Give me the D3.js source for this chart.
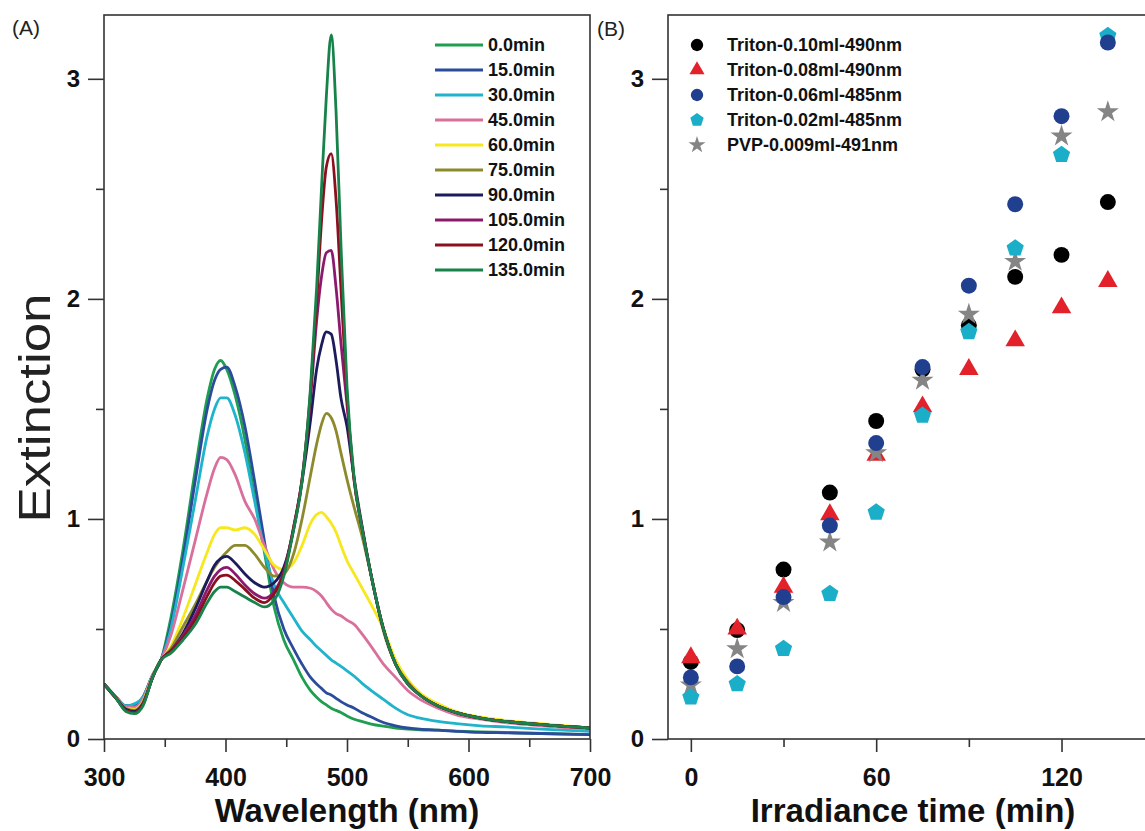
<!DOCTYPE html>
<html>
<head>
<meta charset="utf-8">
<script src="https://cdn.jsdelivr.net/npm/d3@7"></script>
<style>
  body { margin: 0; background: #fff; }
  text { font-family: "Liberation Sans", Arial, sans-serif; }
</style>
</head>
<body>
<svg id="chart" width="1145" height="831"></svg>
<script>
// ---- Panel A data: extinction spectra ----
const wavelengths = [300, 310, 318, 325, 332, 340, 347, 355, 365, 375, 385, 391, 396, 401, 408, 416, 424, 432, 440, 448,
  456, 463, 470, 475, 479, 483, 487, 491, 495, 500, 506, 512, 520, 530, 540, 550, 560, 575, 590, 610, 630, 660, 700];

const spectrumLabels = ["0.0min", "15.0min", "30.0min", "45.0min", "60.0min", "75.0min", "90.0min", "105.0min", "120.0min", "135.0min"];
const spectrumColors = ["#1f9e50", "#2b4c9b", "#1fb3cc", "#d9709c", "#f7e81e", "#8c8a2c", "#1c1c5c", "#8b1a6e", "#8b0f1e", "#17824a"];

const ext0 = [0.25, 0.19, 0.15, 0.155, 0.19, 0.29, 0.36, 0.55, 0.86, 1.22, 1.55, 1.68, 1.72, 1.68, 1.56, 1.36, 1.10, 0.85, 0.60, 0.45,
  0.36, 0.28, 0.22, 0.19, 0.17, 0.155, 0.14, 0.13, 0.12, 0.105, 0.09, 0.08, 0.068, 0.058, 0.05, 0.045, 0.042, 0.04, 0.036, 0.032, 0.03, 0.025, 0.02];
const ext15 = [0.25, 0.19, 0.15, 0.155, 0.19, 0.29, 0.36, 0.52, 0.82, 1.17, 1.50, 1.63, 1.68, 1.69, 1.60, 1.42, 1.17, 0.90, 0.65, 0.50,
  0.41, 0.34, 0.28, 0.25, 0.23, 0.21, 0.20, 0.185, 0.17, 0.155, 0.14, 0.12, 0.10, 0.075, 0.06, 0.05, 0.045, 0.04, 0.035, 0.03, 0.028, 0.025, 0.02];
const ext30 = [0.25, 0.19, 0.15, 0.16, 0.19, 0.29, 0.36, 0.50, 0.78, 1.08, 1.38, 1.50, 1.55, 1.55, 1.47, 1.30, 1.08, 0.86, 0.70, 0.62,
  0.55, 0.49, 0.45, 0.42, 0.40, 0.38, 0.36, 0.345, 0.33, 0.31, 0.285, 0.255, 0.22, 0.18, 0.14, 0.11, 0.095, 0.08, 0.07, 0.06, 0.055, 0.045, 0.035];
const ext45 = [0.25, 0.19, 0.145, 0.145, 0.18, 0.29, 0.36, 0.47, 0.68, 0.90, 1.12, 1.23, 1.28, 1.27, 1.20, 1.08, 1.00, 0.88, 0.77, 0.71,
  0.69, 0.69, 0.685, 0.67, 0.65, 0.62, 0.59, 0.57, 0.56, 0.54, 0.52, 0.48, 0.42, 0.34, 0.28, 0.22, 0.18, 0.14, 0.11, 0.09, 0.075, 0.06, 0.045];
const ext60 = [0.25, 0.185, 0.14, 0.135, 0.17, 0.285, 0.36, 0.42, 0.55, 0.70, 0.85, 0.93, 0.96, 0.96, 0.95, 0.96, 0.93, 0.86, 0.79, 0.77,
  0.80, 0.88, 0.98, 1.02, 1.03, 1.01, 0.98, 0.94, 0.88, 0.81, 0.75, 0.69, 0.61, 0.50, 0.36, 0.27, 0.21, 0.16, 0.125, 0.10, 0.085, 0.07, 0.05];
const ext75 = [0.25, 0.185, 0.14, 0.13, 0.165, 0.28, 0.36, 0.41, 0.51, 0.61, 0.72, 0.78, 0.82, 0.85, 0.88, 0.88, 0.84, 0.78, 0.74, 0.75,
  0.84, 1.00, 1.20, 1.34, 1.43, 1.48, 1.46, 1.40, 1.30, 1.18, 1.05, 0.93, 0.74, 0.49, 0.34, 0.26, 0.20, 0.15, 0.12, 0.095, 0.08, 0.065, 0.05];
const ext90 = [0.25, 0.185, 0.135, 0.125, 0.16, 0.28, 0.36, 0.40, 0.48, 0.59, 0.72, 0.79, 0.82, 0.83, 0.80, 0.75, 0.71, 0.69, 0.71, 0.78,
  0.95, 1.17, 1.45, 1.68, 1.79, 1.85, 1.84, 1.72, 1.55, 1.42, 1.18, 0.98, 0.74, 0.50, 0.34, 0.25, 0.20, 0.15, 0.12, 0.095, 0.08, 0.065, 0.05];
const ext105 = [0.25, 0.185, 0.13, 0.12, 0.155, 0.28, 0.36, 0.40, 0.47, 0.56, 0.68, 0.74, 0.77, 0.78, 0.75, 0.70, 0.66, 0.64, 0.67, 0.76,
  0.96, 1.18, 1.55, 1.90, 2.10, 2.21, 2.22, 2.05, 1.80, 1.52, 1.17, 0.97, 0.74, 0.50, 0.34, 0.25, 0.20, 0.15, 0.12, 0.095, 0.08, 0.065, 0.05];
const ext120 = [0.25, 0.185, 0.13, 0.12, 0.155, 0.28, 0.36, 0.40, 0.46, 0.54, 0.65, 0.71, 0.74, 0.745, 0.72, 0.68, 0.64, 0.62, 0.66, 0.75,
  0.96, 1.18, 1.58, 1.98, 2.35, 2.60, 2.66, 2.45, 2.05, 1.56, 1.17, 0.97, 0.74, 0.50, 0.34, 0.25, 0.20, 0.15, 0.12, 0.095, 0.08, 0.065, 0.05];
const ext135 = [0.25, 0.185, 0.125, 0.115, 0.15, 0.28, 0.36, 0.39, 0.45, 0.52, 0.62, 0.67, 0.69, 0.69, 0.67, 0.645, 0.62, 0.60, 0.63, 0.74,
  0.95, 1.17, 1.60, 2.05, 2.50, 2.92, 3.20, 2.85, 2.25, 1.60, 1.18, 0.97, 0.74, 0.50, 0.34, 0.25, 0.20, 0.15, 0.12, 0.095, 0.08, 0.065, 0.05];

const spectra = [ext0, ext15, ext30, ext45, ext60, ext75, ext90, ext105, ext120, ext135];

// ---- Panel B data: peak extinction vs irradiance time ----
const times = [0, 15, 30, 45, 60, 75, 90, 105, 120, 135];
const triton010 = [0.35, 0.495, 0.77, 1.12, 1.445, 1.68, 1.88, 2.10, 2.20, 2.44];
const triton008 = [0.37, 0.50, 0.69, 1.02, 1.29, 1.51, 1.68, 1.81, 1.96, 2.08];
const triton006 = [0.28, 0.33, 0.645, 0.97, 1.345, 1.69, 2.06, 2.43, 2.83, 3.165];
const triton002 = [0.19, 0.25, 0.41, 0.66, 1.03, 1.47, 1.85, 2.23, 2.655, 3.195];
const pvp009 = [0.245, 0.41, 0.62, 0.895, 1.30, 1.63, 1.93, 2.17, 2.74, 2.85];

const xTicksA = [300, 400, 500, 600, 700], xMinorA = [350, 450, 550, 650];
const xTicksB = [0, 60, 120], xMinorB = [30, 90];
const yTicks = [0, 1, 2, 3], yMinor = [0.5, 1.5, 2.5];

// pentagon symbol (d3 has none)
const symbolPentagon = {
  draw(ctx, size) {
    const r = Math.sqrt(size / (2.5 * Math.sin(2 * Math.PI / 5)));
    for (let i = 0; i < 5; i++) {
      const a = -Math.PI / 2 + i * 2 * Math.PI / 5;
      if (i === 0) ctx.moveTo(r * Math.cos(a), r * Math.sin(a));
      else ctx.lineTo(r * Math.cos(a), r * Math.sin(a));
    }
    ctx.closePath();
  }
};

// draw order matches the overlaps in the figure
const pointSeries = [
  { name: "Triton-0.10ml-490nm", values: triton010, color: "#000000", symbol: d3.symbolCircle, size: 200, order: 0 },
  { name: "Triton-0.08ml-490nm", values: triton008, color: "#e3212b", symbol: d3.symbolTriangle, size: 165, order: 1 },
  { name: "Triton-0.06ml-485nm", values: triton006, color: "#213f8f", symbol: d3.symbolCircle, size: 200, order: 4 },
  { name: "Triton-0.02ml-485nm", values: triton002, color: "#1aaec8", symbol: symbolPentagon, size: 195, order: 3 },
  { name: "PVP-0.009ml-491nm", values: pvp009, color: "#858585", symbol: d3.symbolStar, size: 150, order: 2 }
];

const svg = d3.select("#chart");
const axisColor = "#333";

const xA = d3.scaleLinear().domain([300, 700]).range([104, 590]);
const xB = d3.scaleLinear().domain([-7.4, 148]).range([668, 1148]);
const y = d3.scaleLinear().domain([0, 3.29]).range([739, 15]);

function styleAxis(g, fontSize) {
  g.select(".domain").remove();
  g.selectAll("line").attr("stroke", axisColor).attr("stroke-width", 1.6);
  g.selectAll("text").attr("fill", "#111").attr("font-size", fontSize).attr("font-weight", "bold");
}

function drawAxes(x, majors, minors) {
  const [x0, x1] = x.range(), [y0, y1] = y.range();
  svg.append("g").attr("transform", `translate(0,${y0})`)
    .call(d3.axisBottom(x).tickValues(majors).tickSize(13).tickPadding(16).tickFormat(d3.format("d")))
    .call(g => styleAxis(g, 25));
  svg.append("g").attr("transform", `translate(0,${y0})`)
    .call(d3.axisBottom(x).tickValues(minors).tickSize(8).tickFormat(""))
    .call(g => styleAxis(g, 25));
  svg.append("g").attr("transform", `translate(${x0},0)`)
    .call(d3.axisLeft(y).tickValues(yTicks).tickSize(16).tickPadding(8).tickFormat(d3.format("d")))
    .call(g => styleAxis(g, 24));
  svg.append("g").attr("transform", `translate(${x0},0)`)
    .call(d3.axisLeft(y).tickValues(yMinor).tickSize(8).tickFormat(""))
    .call(g => styleAxis(g, 24));
  svg.append("rect")
    .attr("x", x0).attr("y", y1).attr("width", x1 - x0).attr("height", y0 - y1)
    .attr("fill", "none").attr("stroke", axisColor).attr("stroke-width", 1.6);
}

// ---- Panel A ----
svg.append("clipPath").attr("id", "clipA").append("rect")
  .attr("x", xA.range()[0]).attr("y", y.range()[1])
  .attr("width", xA.range()[1] - xA.range()[0]).attr("height", y.range()[0] - y.range()[1]);

const line = d3.line()
  .x((d, i) => xA(wavelengths[i]))
  .y(d => y(d))
  .curve(d3.curveMonotoneX);

svg.append("g").attr("clip-path", "url(#clipA)")
  .selectAll("path")
  .data(spectra)
  .join("path")
    .attr("d", line)
    .attr("fill", "none")
    .attr("stroke", (d, i) => spectrumColors[i])
    .attr("stroke-width", 2.8)
    .attr("stroke-linejoin", "round");

drawAxes(xA, xTicksA, xMinorA);

const legA = svg.append("g").attr("transform", "translate(435,45)");
spectrumLabels.forEach((lab, i) => {
  const row = legA.append("g").attr("transform", `translate(0,${i * 25})`);
  row.append("line").attr("x1", 0).attr("x2", 48).attr("y1", 0).attr("y2", 0)
    .attr("stroke", spectrumColors[i]).attr("stroke-width", 3);
  row.append("text").attr("x", 53).attr("dy", "0.36em")
    .attr("font-size", 18).attr("font-weight", "bold").attr("fill", "#111").text(lab);
});

// ---- Panel B ----
svg.append("clipPath").attr("id", "clipB").append("rect")
  .attr("x", xB.range()[0]).attr("y", y.range()[1])
  .attr("width", xB.range()[1] - xB.range()[0]).attr("height", y.range()[0] - y.range()[1]);

const sym = d3.symbol();
const gB = svg.append("g").attr("clip-path", "url(#clipB)");
pointSeries.slice().sort((a, b) => a.order - b.order).forEach(s => {
  gB.append("g").selectAll("path")
    .data(s.values)
    .join("path")
      .attr("transform", (d, i) => `translate(${xB(times[i])},${y(d)})`)
      .attr("d", sym.type(s.symbol).size(s.size)())
      .attr("fill", s.color);
});

drawAxes(xB, xTicksB, xMinorB);

const legB = svg.append("g").attr("transform", "translate(697,45)");
pointSeries.forEach((s, i) => {
  const row = legB.append("g").attr("transform", `translate(0,${i * 25})`);
  row.append("path").attr("d", d3.symbol().type(s.symbol).size(s.size * 0.6)()).attr("fill", s.color);
  row.append("text").attr("x", 30).attr("dy", "0.36em")
    .attr("font-size", 18).attr("font-weight", "bold").attr("fill", "#111").text(s.name);
});

// ---- Titles ----
svg.append("text").attr("x", 12).attr("y", 35).attr("font-size", 21).attr("fill", "#222").text("(A)");
svg.append("text").attr("x", 597).attr("y", 36).attr("font-size", 21).attr("fill", "#222").text("(B)");

svg.append("text")
  .attr("transform", "translate(50,408) rotate(-90)")
  .attr("text-anchor", "middle")
  .attr("font-size", 45)
  .attr("textLength", 229).attr("lengthAdjust", "spacingAndGlyphs")
  .attr("fill", "#222")
  .text("Extinction");

svg.append("text").attr("x", d3.mean(xA.range())).attr("y", 822).attr("text-anchor", "middle")
  .attr("font-size", 33).attr("font-weight", "bold").attr("fill", "#111").text("Wavelength (nm)");
svg.append("text").attr("x", 913).attr("y", 822).attr("text-anchor", "middle")
  .attr("font-size", 33).attr("font-weight", "bold").attr("fill", "#111").text("Irradiance time (min)");
</script>
</body>
</html>
